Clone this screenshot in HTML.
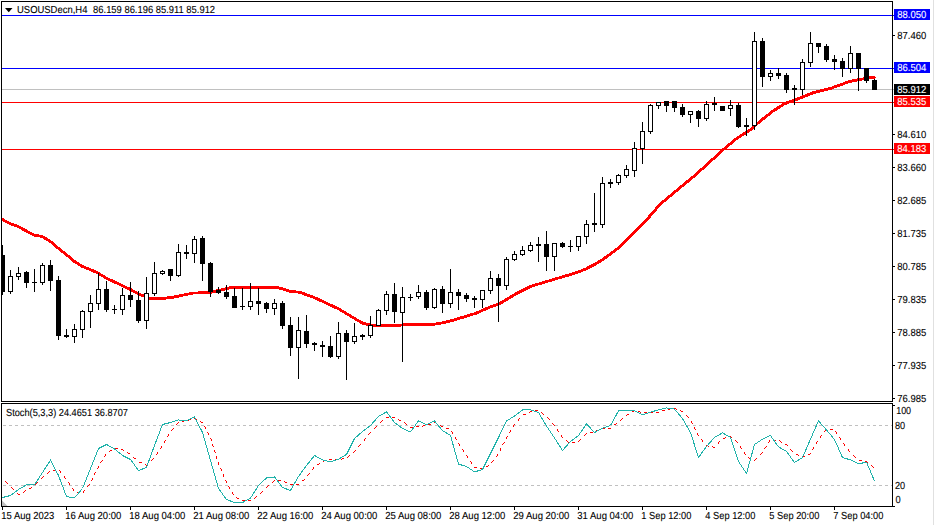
<!DOCTYPE html>
<html><head><meta charset="utf-8"><title>USOUSDecn H4</title>
<style>html,body{margin:0;padding:0;background:#fff;width:934px;height:525px;overflow:hidden}</style></head>
<body>
<svg width="934" height="525" viewBox="0 0 934 525" style="display:block;position:absolute;left:0;top:0" font-family="'Liberation Sans', sans-serif" font-size="10.2px" text-rendering="geometricPrecision">
<rect x="0" y="0" width="934" height="525" fill="#fff"/>
<rect x="933" y="0" width="1" height="525" fill="#e0e0e0"/>
<defs><clipPath id="cm"><rect x="2" y="2" width="890" height="399"/></clipPath><clipPath id="cs"><rect x="2" y="404" width="890" height="102"/></clipPath></defs>
<g shape-rendering="crispEdges">
<rect x="2" y="15" width="892" height="1" fill="#0000ff"/>
<rect x="2" y="68" width="892" height="1" fill="#0000ff"/>
<rect x="2" y="89" width="892" height="1" fill="#c0c0c0"/>
<rect x="2" y="102" width="892" height="1" fill="#ff0000"/>
<rect x="2" y="149" width="892" height="1" fill="#ff0000"/>
</g>
<polyline clip-path="url(#cm)" points="2,219.3 10,223.5 18,226.5 26,230.8 34,235.1 42,236.5 50,241.1 58,248.0 66,254.3 74,261.2 82,266.3 90,269.4 98,273.0 106,278.0 120,284.5 130,289.3 139,294.1 151,298.9 160,298.7 172,297.4 193,293.1 210,292.5 230.6,287.6 277.8,287.6 290.7,291.4 299.2,292.2 309.5,295.7 313,296.9 338.6,308.9 362.6,323.2 372.9,325.6 396.9,325.6 402,324.9 422,324.9 430,324.7 438,323.7 446,322.1 454,320.0 462,317.5 470,315.0 476,313.3 482,310.5 490,307.1 498.9,304.1 516,293.8 531.5,286.1 557.2,278.4 577,272.5 586,268.9 595,264.2 602,260.0 609,255.1 620,246.8 626,240.8 650,216.0 660,204.3 667,198.5 674,192.7 682,186.0 690.5,179.1 698,172.7 706.3,165.1 723.5,149.5 737.2,138.0 749.2,130.7 759.5,121.7 772.6,111.3 784.6,103.7 796.6,99.4 813.8,92.5 830.9,88.3 849.8,81.4 863.5,78.8 872,77.1 875.5,78.0" fill="none" stroke="#ff0000" stroke-width="2.85" stroke-linejoin="round" shape-rendering="crispEdges"/>
<g shape-rendering="crispEdges" clip-path="url(#cm)">
<rect x="2" y="245" width="1" height="50" fill="#000"/>
<rect x="0" y="255" width="5" height="37" fill="#000"/>
<rect x="10" y="270" width="1" height="24" fill="#000"/>
<rect x="8" y="276" width="5" height="16" fill="#000"/>
<rect x="9" y="277" width="3" height="14" fill="#fff"/>
<rect x="18" y="267" width="1" height="13" fill="#000"/>
<rect x="16" y="273" width="5" height="4" fill="#000"/>
<rect x="17" y="274" width="3" height="2" fill="#fff"/>
<rect x="26" y="271" width="1" height="17" fill="#000"/>
<rect x="24" y="272" width="5" height="11" fill="#000"/>
<rect x="34" y="269" width="1" height="23" fill="#000"/>
<rect x="32" y="282" width="5" height="1" fill="#000"/>
<rect x="42" y="263" width="1" height="22" fill="#000"/>
<rect x="40" y="265" width="5" height="18" fill="#000"/>
<rect x="41" y="266" width="3" height="16" fill="#fff"/>
<rect x="50" y="260" width="1" height="31" fill="#000"/>
<rect x="48" y="265" width="5" height="16" fill="#000"/>
<rect x="58" y="276" width="1" height="64" fill="#000"/>
<rect x="56" y="280" width="5" height="56" fill="#000"/>
<rect x="66" y="329" width="1" height="9" fill="#000"/>
<rect x="64" y="335" width="5" height="2" fill="#000"/>
<rect x="74" y="324" width="1" height="19" fill="#000"/>
<rect x="72" y="329" width="5" height="8" fill="#000"/>
<rect x="73" y="330" width="3" height="6" fill="#fff"/>
<rect x="82" y="310" width="1" height="28" fill="#000"/>
<rect x="80" y="311" width="5" height="19" fill="#000"/>
<rect x="81" y="312" width="3" height="17" fill="#fff"/>
<rect x="90" y="295" width="1" height="33" fill="#000"/>
<rect x="88" y="303" width="5" height="9" fill="#000"/>
<rect x="89" y="304" width="3" height="7" fill="#fff"/>
<rect x="98" y="273" width="1" height="37" fill="#000"/>
<rect x="96" y="289" width="5" height="15" fill="#000"/>
<rect x="97" y="290" width="3" height="13" fill="#fff"/>
<rect x="106" y="281" width="1" height="31" fill="#000"/>
<rect x="104" y="289" width="5" height="21" fill="#000"/>
<rect x="114" y="305" width="1" height="9" fill="#000"/>
<rect x="112" y="309" width="5" height="1" fill="#000"/>
<rect x="122" y="288" width="1" height="27" fill="#000"/>
<rect x="120" y="295" width="5" height="15" fill="#000"/>
<rect x="121" y="296" width="3" height="13" fill="#fff"/>
<rect x="130" y="282" width="1" height="25" fill="#000"/>
<rect x="128" y="295" width="5" height="5" fill="#000"/>
<rect x="138" y="291" width="1" height="32" fill="#000"/>
<rect x="136" y="300" width="5" height="21" fill="#000"/>
<rect x="146" y="277" width="1" height="52" fill="#000"/>
<rect x="144" y="293" width="5" height="28" fill="#000"/>
<rect x="145" y="294" width="3" height="26" fill="#fff"/>
<rect x="154" y="262" width="1" height="34" fill="#000"/>
<rect x="152" y="273" width="5" height="21" fill="#000"/>
<rect x="153" y="274" width="3" height="19" fill="#fff"/>
<rect x="162" y="270" width="1" height="5" fill="#000"/>
<rect x="160" y="271" width="5" height="3" fill="#000"/>
<rect x="161" y="272" width="3" height="1" fill="#fff"/>
<rect x="170" y="269" width="1" height="12" fill="#000"/>
<rect x="168" y="269" width="5" height="7" fill="#000"/>
<rect x="178" y="244" width="1" height="33" fill="#000"/>
<rect x="176" y="252" width="5" height="24" fill="#000"/>
<rect x="177" y="253" width="3" height="22" fill="#fff"/>
<rect x="186" y="245" width="1" height="14" fill="#000"/>
<rect x="184" y="252" width="5" height="2" fill="#000"/>
<rect x="194" y="236" width="1" height="27" fill="#000"/>
<rect x="192" y="239" width="5" height="15" fill="#000"/>
<rect x="193" y="240" width="3" height="13" fill="#fff"/>
<rect x="202" y="236" width="1" height="45" fill="#000"/>
<rect x="200" y="238" width="5" height="26" fill="#000"/>
<rect x="210" y="262" width="1" height="35" fill="#000"/>
<rect x="208" y="263" width="5" height="29" fill="#000"/>
<rect x="218" y="287" width="1" height="7" fill="#000"/>
<rect x="216" y="290" width="5" height="3" fill="#000"/>
<rect x="226" y="285" width="1" height="14" fill="#000"/>
<rect x="224" y="292" width="5" height="5" fill="#000"/>
<rect x="234" y="288" width="1" height="20" fill="#000"/>
<rect x="232" y="296" width="5" height="12" fill="#000"/>
<rect x="242" y="288" width="1" height="22" fill="#000"/>
<rect x="240" y="306" width="5" height="1" fill="#000"/>
<rect x="250" y="283" width="1" height="27" fill="#000"/>
<rect x="248" y="301" width="5" height="6" fill="#000"/>
<rect x="249" y="302" width="3" height="4" fill="#fff"/>
<rect x="258" y="288" width="1" height="27" fill="#000"/>
<rect x="256" y="301" width="5" height="3" fill="#000"/>
<rect x="266" y="302" width="1" height="11" fill="#000"/>
<rect x="264" y="303" width="5" height="6" fill="#000"/>
<rect x="274" y="299" width="1" height="16" fill="#000"/>
<rect x="272" y="303" width="5" height="6" fill="#000"/>
<rect x="273" y="304" width="3" height="4" fill="#fff"/>
<rect x="282" y="301" width="1" height="28" fill="#000"/>
<rect x="280" y="303" width="5" height="23" fill="#000"/>
<rect x="290" y="317" width="1" height="39" fill="#000"/>
<rect x="288" y="325" width="5" height="23" fill="#000"/>
<rect x="298" y="317" width="1" height="62" fill="#000"/>
<rect x="296" y="330" width="5" height="18" fill="#000"/>
<rect x="297" y="331" width="3" height="16" fill="#fff"/>
<rect x="306" y="315" width="1" height="33" fill="#000"/>
<rect x="304" y="331" width="5" height="13" fill="#000"/>
<rect x="314" y="342" width="1" height="9" fill="#000"/>
<rect x="312" y="343" width="5" height="2" fill="#000"/>
<rect x="322" y="341" width="1" height="16" fill="#000"/>
<rect x="320" y="345" width="5" height="2" fill="#000"/>
<rect x="330" y="336" width="1" height="22" fill="#000"/>
<rect x="328" y="346" width="5" height="11" fill="#000"/>
<rect x="338" y="322" width="1" height="37" fill="#000"/>
<rect x="336" y="333" width="5" height="24" fill="#000"/>
<rect x="337" y="334" width="3" height="22" fill="#fff"/>
<rect x="346" y="330" width="1" height="50" fill="#000"/>
<rect x="344" y="333" width="5" height="9" fill="#000"/>
<rect x="354" y="323" width="1" height="21" fill="#000"/>
<rect x="352" y="336" width="5" height="6" fill="#000"/>
<rect x="353" y="337" width="3" height="4" fill="#fff"/>
<rect x="362" y="334" width="1" height="6" fill="#000"/>
<rect x="360" y="335" width="5" height="2" fill="#000"/>
<rect x="370" y="316" width="1" height="22" fill="#000"/>
<rect x="368" y="325" width="5" height="11" fill="#000"/>
<rect x="369" y="326" width="3" height="9" fill="#fff"/>
<rect x="378" y="309" width="1" height="17" fill="#000"/>
<rect x="376" y="310" width="5" height="16" fill="#000"/>
<rect x="377" y="311" width="3" height="14" fill="#fff"/>
<rect x="386" y="291" width="1" height="24" fill="#000"/>
<rect x="384" y="294" width="5" height="17" fill="#000"/>
<rect x="385" y="295" width="3" height="15" fill="#fff"/>
<rect x="394" y="283" width="1" height="40" fill="#000"/>
<rect x="392" y="294" width="5" height="18" fill="#000"/>
<rect x="402" y="287" width="1" height="75" fill="#000"/>
<rect x="400" y="297" width="5" height="16" fill="#000"/>
<rect x="401" y="298" width="3" height="14" fill="#fff"/>
<rect x="410" y="294" width="1" height="7" fill="#000"/>
<rect x="408" y="297" width="5" height="1" fill="#000"/>
<rect x="418" y="285" width="1" height="14" fill="#000"/>
<rect x="416" y="292" width="5" height="5" fill="#000"/>
<rect x="417" y="293" width="3" height="3" fill="#fff"/>
<rect x="426" y="290" width="1" height="20" fill="#000"/>
<rect x="424" y="292" width="5" height="16" fill="#000"/>
<rect x="434" y="288" width="1" height="21" fill="#000"/>
<rect x="432" y="289" width="5" height="19" fill="#000"/>
<rect x="433" y="290" width="3" height="17" fill="#fff"/>
<rect x="442" y="286" width="1" height="27" fill="#000"/>
<rect x="440" y="289" width="5" height="15" fill="#000"/>
<rect x="450" y="269" width="1" height="39" fill="#000"/>
<rect x="448" y="292" width="5" height="12" fill="#000"/>
<rect x="449" y="293" width="3" height="10" fill="#fff"/>
<rect x="458" y="289" width="1" height="21" fill="#000"/>
<rect x="456" y="292" width="5" height="4" fill="#000"/>
<rect x="466" y="293" width="1" height="9" fill="#000"/>
<rect x="464" y="295" width="5" height="4" fill="#000"/>
<rect x="474" y="296" width="1" height="12" fill="#000"/>
<rect x="472" y="298" width="5" height="2" fill="#000"/>
<rect x="482" y="290" width="1" height="18" fill="#000"/>
<rect x="480" y="290" width="5" height="10" fill="#000"/>
<rect x="481" y="291" width="3" height="8" fill="#fff"/>
<rect x="490" y="271" width="1" height="23" fill="#000"/>
<rect x="488" y="278" width="5" height="13" fill="#000"/>
<rect x="489" y="279" width="3" height="11" fill="#fff"/>
<rect x="498" y="274" width="1" height="48" fill="#000"/>
<rect x="496" y="278" width="5" height="8" fill="#000"/>
<rect x="506" y="257" width="1" height="33" fill="#000"/>
<rect x="504" y="259" width="5" height="27" fill="#000"/>
<rect x="505" y="260" width="3" height="25" fill="#fff"/>
<rect x="514" y="251" width="1" height="10" fill="#000"/>
<rect x="512" y="254" width="5" height="6" fill="#000"/>
<rect x="513" y="255" width="3" height="4" fill="#fff"/>
<rect x="522" y="246" width="1" height="10" fill="#000"/>
<rect x="520" y="250" width="5" height="5" fill="#000"/>
<rect x="521" y="251" width="3" height="3" fill="#fff"/>
<rect x="530" y="242" width="1" height="10" fill="#000"/>
<rect x="528" y="245" width="5" height="6" fill="#000"/>
<rect x="529" y="246" width="3" height="4" fill="#fff"/>
<rect x="538" y="237" width="1" height="25" fill="#000"/>
<rect x="536" y="244" width="5" height="2" fill="#000"/>
<rect x="546" y="231" width="1" height="40" fill="#000"/>
<rect x="544" y="244" width="5" height="13" fill="#000"/>
<rect x="554" y="243" width="1" height="28" fill="#000"/>
<rect x="552" y="243" width="5" height="14" fill="#000"/>
<rect x="553" y="244" width="3" height="12" fill="#fff"/>
<rect x="562" y="242" width="1" height="6" fill="#000"/>
<rect x="560" y="243" width="5" height="4" fill="#000"/>
<rect x="570" y="240" width="1" height="12" fill="#000"/>
<rect x="568" y="246" width="5" height="1" fill="#000"/>
<rect x="578" y="236" width="1" height="15" fill="#000"/>
<rect x="576" y="236" width="5" height="11" fill="#000"/>
<rect x="577" y="237" width="3" height="9" fill="#fff"/>
<rect x="586" y="220" width="1" height="24" fill="#000"/>
<rect x="584" y="224" width="5" height="13" fill="#000"/>
<rect x="585" y="225" width="3" height="11" fill="#fff"/>
<rect x="594" y="193" width="1" height="39" fill="#000"/>
<rect x="592" y="223" width="5" height="2" fill="#000"/>
<rect x="602" y="177" width="1" height="51" fill="#000"/>
<rect x="600" y="183" width="5" height="42" fill="#000"/>
<rect x="601" y="184" width="3" height="40" fill="#fff"/>
<rect x="610" y="179" width="1" height="9" fill="#000"/>
<rect x="608" y="182" width="5" height="2" fill="#000"/>
<rect x="618" y="174" width="1" height="11" fill="#000"/>
<rect x="616" y="175" width="5" height="8" fill="#000"/>
<rect x="617" y="176" width="3" height="6" fill="#fff"/>
<rect x="626" y="165" width="1" height="13" fill="#000"/>
<rect x="624" y="169" width="5" height="7" fill="#000"/>
<rect x="625" y="170" width="3" height="5" fill="#fff"/>
<rect x="634" y="142" width="1" height="35" fill="#000"/>
<rect x="632" y="148" width="5" height="23" fill="#000"/>
<rect x="633" y="149" width="3" height="21" fill="#fff"/>
<rect x="642" y="122" width="1" height="42" fill="#000"/>
<rect x="640" y="131" width="5" height="18" fill="#000"/>
<rect x="641" y="132" width="3" height="16" fill="#fff"/>
<rect x="650" y="104" width="1" height="30" fill="#000"/>
<rect x="648" y="105" width="5" height="27" fill="#000"/>
<rect x="649" y="106" width="3" height="25" fill="#fff"/>
<rect x="658" y="102" width="1" height="7" fill="#000"/>
<rect x="656" y="102" width="5" height="4" fill="#000"/>
<rect x="657" y="103" width="3" height="2" fill="#fff"/>
<rect x="666" y="101" width="1" height="11" fill="#000"/>
<rect x="664" y="101" width="5" height="5" fill="#000"/>
<rect x="674" y="101" width="1" height="11" fill="#000"/>
<rect x="672" y="101" width="5" height="7" fill="#000"/>
<rect x="682" y="104" width="1" height="13" fill="#000"/>
<rect x="680" y="107" width="5" height="8" fill="#000"/>
<rect x="690" y="111" width="1" height="12" fill="#000"/>
<rect x="688" y="111" width="5" height="4" fill="#000"/>
<rect x="689" y="112" width="3" height="2" fill="#fff"/>
<rect x="698" y="110" width="1" height="17" fill="#000"/>
<rect x="696" y="111" width="5" height="8" fill="#000"/>
<rect x="706" y="101" width="1" height="20" fill="#000"/>
<rect x="704" y="104" width="5" height="15" fill="#000"/>
<rect x="705" y="105" width="3" height="13" fill="#fff"/>
<rect x="714" y="97" width="1" height="14" fill="#000"/>
<rect x="712" y="103" width="5" height="2" fill="#000"/>
<rect x="722" y="106" width="1" height="5" fill="#000"/>
<rect x="720" y="106" width="5" height="5" fill="#000"/>
<rect x="730" y="100" width="1" height="16" fill="#000"/>
<rect x="728" y="105" width="5" height="4" fill="#000"/>
<rect x="729" y="106" width="3" height="2" fill="#fff"/>
<rect x="738" y="103" width="1" height="25" fill="#000"/>
<rect x="736" y="105" width="5" height="22" fill="#000"/>
<rect x="746" y="118" width="1" height="18" fill="#000"/>
<rect x="744" y="125" width="5" height="2" fill="#000"/>
<rect x="754" y="32" width="1" height="98" fill="#000"/>
<rect x="752" y="41" width="5" height="85" fill="#000"/>
<rect x="753" y="42" width="3" height="83" fill="#fff"/>
<rect x="762" y="38" width="1" height="49" fill="#000"/>
<rect x="760" y="41" width="5" height="36" fill="#000"/>
<rect x="770" y="70" width="1" height="11" fill="#000"/>
<rect x="768" y="73" width="5" height="4" fill="#000"/>
<rect x="769" y="74" width="3" height="2" fill="#fff"/>
<rect x="778" y="68" width="1" height="11" fill="#000"/>
<rect x="776" y="73" width="5" height="3" fill="#000"/>
<rect x="786" y="73" width="1" height="20" fill="#000"/>
<rect x="784" y="75" width="5" height="15" fill="#000"/>
<rect x="794" y="85" width="1" height="20" fill="#000"/>
<rect x="792" y="88" width="5" height="2" fill="#000"/>
<rect x="802" y="59" width="1" height="36" fill="#000"/>
<rect x="800" y="62" width="5" height="28" fill="#000"/>
<rect x="801" y="63" width="3" height="26" fill="#fff"/>
<rect x="810" y="32" width="1" height="35" fill="#000"/>
<rect x="808" y="43" width="5" height="20" fill="#000"/>
<rect x="809" y="44" width="3" height="18" fill="#fff"/>
<rect x="818" y="43" width="1" height="10" fill="#000"/>
<rect x="816" y="43" width="5" height="4" fill="#000"/>
<rect x="826" y="44" width="1" height="18" fill="#000"/>
<rect x="824" y="46" width="5" height="14" fill="#000"/>
<rect x="834" y="55" width="1" height="15" fill="#000"/>
<rect x="832" y="59" width="5" height="3" fill="#000"/>
<rect x="842" y="58" width="1" height="19" fill="#000"/>
<rect x="840" y="61" width="5" height="8" fill="#000"/>
<rect x="850" y="46" width="1" height="27" fill="#000"/>
<rect x="848" y="53" width="5" height="16" fill="#000"/>
<rect x="849" y="54" width="3" height="14" fill="#fff"/>
<rect x="858" y="53" width="1" height="38" fill="#000"/>
<rect x="856" y="53" width="5" height="16" fill="#000"/>
<rect x="866" y="68" width="1" height="15" fill="#000"/>
<rect x="864" y="68" width="5" height="13" fill="#000"/>
<rect x="874" y="79" width="1" height="11" fill="#000"/>
<rect x="872" y="80" width="5" height="10" fill="#000"/>
</g>
<g shape-rendering="crispEdges" fill="#000">
<rect x="1" y="1" width="892" height="1"/>
<rect x="1" y="1" width="1" height="401"/>
<rect x="892" y="1" width="1" height="401"/>
<rect x="1" y="401" width="892" height="1"/>
<rect x="1" y="403" width="892" height="1"/>
<rect x="1" y="403" width="1" height="104"/>
<rect x="892" y="403" width="1" height="104"/>
<rect x="1" y="506" width="894" height="1"/>
<rect x="893" y="35" width="2" height="1"/>
<rect x="893" y="134" width="2" height="1"/>
<rect x="893" y="167" width="2" height="1"/>
<rect x="893" y="200" width="2" height="1"/>
<rect x="893" y="233" width="2" height="1"/>
<rect x="893" y="266" width="2" height="1"/>
<rect x="893" y="299" width="2" height="1"/>
<rect x="893" y="332" width="2" height="1"/>
<rect x="893" y="365" width="2" height="1"/>
<rect x="893" y="398" width="2" height="1"/>
<rect x="893" y="405" width="2" height="1"/>
<rect x="2" y="507" width="1" height="3"/>
<rect x="66" y="507" width="1" height="3"/>
<rect x="130" y="507" width="1" height="3"/>
<rect x="194" y="507" width="1" height="3"/>
<rect x="258" y="507" width="1" height="3"/>
<rect x="322" y="507" width="1" height="3"/>
<rect x="386" y="507" width="1" height="3"/>
<rect x="450" y="507" width="1" height="3"/>
<rect x="514" y="507" width="1" height="3"/>
<rect x="578" y="507" width="1" height="3"/>
<rect x="642" y="507" width="1" height="3"/>
<rect x="706" y="507" width="1" height="3"/>
<rect x="770" y="507" width="1" height="3"/>
<rect x="834" y="507" width="1" height="3"/>
</g>
<g shape-rendering="crispEdges">
<rect x="894" y="9" width="36" height="11" fill="#0000ff"/>
<rect x="894" y="62" width="36" height="11" fill="#0000ff"/>
<rect x="894" y="84" width="36" height="11" fill="#000"/>
<rect x="894" y="96" width="36" height="11" fill="#ff0000"/>
<rect x="894" y="143" width="36" height="11" fill="#ff0000"/>
</g>
<g shape-rendering="crispEdges" stroke="#c0c0c0" stroke-width="1" stroke-dasharray="3 3">
<line x1="3" y1="425.5" x2="892" y2="425.5"/>
<line x1="3" y1="485.5" x2="892" y2="485.5"/>
</g>
<polygon points="2,500.5 2,506 7.5,506" fill="#c0c0c0"/>
<path d="M5 481h1v1h-1zM6 482h1v1h-1zM7 483h1v1h-1zM11 487h1v1h-1zM12 488h1v1h-1zM13 489h1v1h-1zM17 493h1v1h-1zM18 494h1v1h-1zM19 494h1v1h-1zM23 492h1v1h-1zM24 491h1v1h-1zM25 490h1v1h-1zM29 488h1v1h-1zM30 488h1v1h-1zM31 487h1v1h-1zM35 484h1v1h-1zM36 483h1v1h-1zM37 482h1v1h-1zM41 478h1v1h-1zM42 477h1v1h-1zM43 476h1v1h-1zM47 473h1v1h-1zM48 472h1v1h-1zM49 471h1v1h-1zM53 470h1v1h-1zM54 470h1v1h-1zM55 469h1v1h-1zM59 470h1v1h-1zM60 471h1v1h-1zM60 472h1v1h-1zM64 476h1v1h-1zM64 477h1v1h-1zM65 478h1v1h-1zM68 482h1v1h-1zM69 483h1v1h-1zM69 484h1v1h-1zM72 488h1v1h-1zM73 489h1v1h-1zM73 490h1v1h-1zM77 492h1v1h-1zM78 492h1v1h-1zM79 492h1v1h-1zM83 492h1v1h-1zM83 491h1v1h-1zM84 490h1v1h-1zM87 486h1v1h-1zM88 485h1v1h-1zM89 484h1v1h-1zM91 480h1v1h-1zM92 479h1v1h-1zM92 478h1v1h-1zM94 474h1v1h-1zM94 473h1v1h-1zM95 472h1v1h-1zM97 468h1v1h-1zM98 467h1v1h-1zM98 466h1v1h-1zM100 462h1v1h-1zM101 461h1v1h-1zM102 460h1v1h-1zM104 456h1v1h-1zM105 455h1v1h-1zM105 454h1v1h-1zM109 451h1v1h-1zM110 450h1v1h-1zM111 450h1v1h-1zM115 448h1v1h-1zM116 448h1v1h-1zM117 448h1v1h-1zM121 449h1v1h-1zM122 449h1v1h-1zM123 450h1v1h-1zM127 452h1v1h-1zM128 453h1v1h-1zM129 453h1v1h-1zM133 457h1v1h-1zM134 458h1v1h-1zM135 458h1v1h-1zM139 462h1v1h-1zM140 462h1v1h-1zM141 462h1v1h-1zM145 464h1v1h-1zM146 465h1v1h-1zM147 464h1v1h-1zM151 460h1v1h-1zM152 459h1v1h-1zM153 458h1v1h-1zM156 454h1v1h-1zM157 453h1v1h-1zM157 452h1v1h-1zM160 448h1v1h-1zM161 447h1v1h-1zM161 446h1v1h-1zM164 442h1v1h-1zM164 441h1v1h-1zM165 440h1v1h-1zM167 436h1v1h-1zM168 435h1v1h-1zM168 434h1v1h-1zM171 430h1v1h-1zM172 429h1v1h-1zM173 428h1v1h-1zM176 424h1v1h-1zM177 423h1v1h-1zM178 422h1v1h-1zM182 421h1v1h-1zM183 421h1v1h-1zM184 420h1v1h-1zM188 420h1v1h-1zM189 419h1v1h-1zM190 419h1v1h-1zM194 418h1v1h-1zM195 418h1v1h-1zM196 419h1v1h-1zM200 421h1v1h-1zM201 422h1v1h-1zM202 422h1v1h-1zM204 426h1v1h-1zM205 427h1v1h-1zM205 428h1v1h-1zM207 432h1v1h-1zM208 433h1v1h-1zM208 434h1v1h-1zM210 438h1v1h-1zM211 439h1v1h-1zM211 440h1v1h-1zM212 444h1v1h-1zM212 445h1v1h-1zM213 446h1v1h-1zM214 450h1v1h-1zM214 451h1v1h-1zM215 452h1v1h-1zM216 456h1v1h-1zM216 457h1v1h-1zM216 458h1v1h-1zM218 462h1v1h-1zM218 463h1v1h-1zM218 464h1v1h-1zM220 468h1v1h-1zM221 469h1v1h-1zM221 470h1v1h-1zM223 474h1v1h-1zM223 475h1v1h-1zM223 476h1v1h-1zM225 480h1v1h-1zM226 481h1v1h-1zM226 482h1v1h-1zM228 486h1v1h-1zM229 487h1v1h-1zM229 488h1v1h-1zM232 492h1v1h-1zM232 493h1v1h-1zM233 494h1v1h-1zM236 497h1v1h-1zM237 498h1v1h-1zM238 498h1v1h-1zM242 500h1v1h-1zM243 500h1v1h-1zM244 500h1v1h-1zM248 500h1v1h-1zM249 500h1v1h-1zM250 500h1v1h-1zM254 498h1v1h-1zM255 497h1v1h-1zM256 496h1v1h-1zM260 493h1v1h-1zM261 492h1v1h-1zM262 491h1v1h-1zM266 487h1v1h-1zM267 486h1v1h-1zM268 485h1v1h-1zM272 482h1v1h-1zM273 481h1v1h-1zM274 480h1v1h-1zM278 480h1v1h-1zM279 480h1v1h-1zM280 480h1v1h-1zM284 481h1v1h-1zM285 482h1v1h-1zM286 482h1v1h-1zM290 484h1v1h-1zM291 484h1v1h-1zM292 484h1v1h-1zM296 484h1v1h-1zM297 484h1v1h-1zM298 484h1v1h-1zM302 480h1v1h-1zM303 480h1v1h-1zM304 479h1v1h-1zM307 475h1v1h-1zM308 474h1v1h-1zM309 473h1v1h-1zM312 469h1v1h-1zM313 468h1v1h-1zM313 467h1v1h-1zM317 464h1v1h-1zM318 464h1v1h-1zM319 463h1v1h-1zM323 461h1v1h-1zM324 460h1v1h-1zM325 460h1v1h-1zM329 459h1v1h-1zM330 459h1v1h-1zM331 459h1v1h-1zM335 459h1v1h-1zM336 459h1v1h-1zM337 459h1v1h-1zM341 459h1v1h-1zM342 458h1v1h-1zM343 458h1v1h-1zM347 457h1v1h-1zM348 456h1v1h-1zM349 455h1v1h-1zM353 452h1v1h-1zM354 451h1v1h-1zM355 450h1v1h-1zM358 446h1v1h-1zM359 445h1v1h-1zM360 444h1v1h-1zM364 440h1v1h-1zM364 439h1v1h-1zM365 438h1v1h-1zM368 434h1v1h-1zM369 433h1v1h-1zM370 432h1v1h-1zM374 428h1v1h-1zM375 427h1v1h-1zM376 426h1v1h-1zM380 422h1v1h-1zM381 421h1v1h-1zM382 420h1v1h-1zM386 417h1v1h-1zM387 417h1v1h-1zM388 417h1v1h-1zM392 417h1v1h-1zM393 417h1v1h-1zM394 417h1v1h-1zM398 419h1v1h-1zM399 420h1v1h-1zM400 420h1v1h-1zM404 422h1v1h-1zM405 423h1v1h-1zM406 424h1v1h-1zM410 427h1v1h-1zM411 427h1v1h-1zM412 427h1v1h-1zM416 426h1v1h-1zM417 426h1v1h-1zM418 426h1v1h-1zM422 426h1v1h-1zM423 425h1v1h-1zM424 425h1v1h-1zM428 424h1v1h-1zM429 424h1v1h-1zM430 424h1v1h-1zM434 422h1v1h-1zM435 422h1v1h-1zM436 423h1v1h-1zM440 425h1v1h-1zM441 426h1v1h-1zM442 426h1v1h-1zM446 428h1v1h-1zM447 428h1v1h-1zM448 428h1v1h-1zM451 431h1v1h-1zM452 432h1v1h-1zM452 433h1v1h-1zM455 437h1v1h-1zM455 438h1v1h-1zM456 439h1v1h-1zM458 443h1v1h-1zM459 444h1v1h-1zM459 445h1v1h-1zM462 449h1v1h-1zM463 450h1v1h-1zM463 451h1v1h-1zM466 455h1v1h-1zM467 456h1v1h-1zM467 457h1v1h-1zM470 461h1v1h-1zM471 462h1v1h-1zM471 463h1v1h-1zM474 467h1v1h-1zM475 467h1v1h-1zM476 467h1v1h-1zM480 468h1v1h-1zM481 468h1v1h-1zM482 468h1v1h-1zM486 466h1v1h-1zM487 466h1v1h-1zM488 465h1v1h-1zM491 462h1v1h-1zM492 461h1v1h-1zM493 460h1v1h-1zM496 456h1v1h-1zM497 455h1v1h-1zM497 454h1v1h-1zM500 450h1v1h-1zM500 449h1v1h-1zM500 448h1v1h-1zM502 444h1v1h-1zM503 443h1v1h-1zM504 442h1v1h-1zM506 438h1v1h-1zM506 437h1v1h-1zM507 436h1v1h-1zM509 432h1v1h-1zM510 431h1v1h-1zM510 430h1v1h-1zM513 426h1v1h-1zM513 425h1v1h-1zM514 424h1v1h-1zM518 420h1v1h-1zM518 419h1v1h-1zM519 418h1v1h-1zM523 414h1v1h-1zM524 414h1v1h-1zM525 414h1v1h-1zM529 412h1v1h-1zM530 411h1v1h-1zM531 411h1v1h-1zM535 410h1v1h-1zM536 410h1v1h-1zM537 410h1v1h-1zM541 412h1v1h-1zM542 413h1v1h-1zM543 414h1v1h-1zM547 417h1v1h-1zM548 418h1v1h-1zM549 419h1v1h-1zM552 423h1v1h-1zM553 424h1v1h-1zM554 425h1v1h-1zM557 429h1v1h-1zM557 430h1v1h-1zM558 431h1v1h-1zM561 435h1v1h-1zM561 436h1v1h-1zM562 437h1v1h-1zM566 440h1v1h-1zM567 441h1v1h-1zM568 442h1v1h-1zM572 442h1v1h-1zM573 442h1v1h-1zM574 442h1v1h-1zM578 441h1v1h-1zM579 440h1v1h-1zM580 439h1v1h-1zM584 435h1v1h-1zM585 434h1v1h-1zM586 433h1v1h-1zM590 432h1v1h-1zM591 432h1v1h-1zM592 432h1v1h-1zM596 430h1v1h-1zM597 430h1v1h-1zM598 430h1v1h-1zM602 428h1v1h-1zM603 428h1v1h-1zM604 428h1v1h-1zM608 428h1v1h-1zM609 428h1v1h-1zM610 428h1v1h-1zM614 424h1v1h-1zM615 424h1v1h-1zM616 423h1v1h-1zM620 420h1v1h-1zM621 419h1v1h-1zM622 418h1v1h-1zM626 415h1v1h-1zM627 414h1v1h-1zM628 414h1v1h-1zM632 411h1v1h-1zM633 411h1v1h-1zM634 410h1v1h-1zM638 411h1v1h-1zM639 411h1v1h-1zM640 412h1v1h-1zM644 412h1v1h-1zM645 412h1v1h-1zM646 412h1v1h-1zM650 412h1v1h-1zM651 412h1v1h-1zM652 412h1v1h-1zM656 412h1v1h-1zM657 412h1v1h-1zM658 412h1v1h-1zM662 410h1v1h-1zM663 410h1v1h-1zM664 410h1v1h-1zM668 409h1v1h-1zM669 409h1v1h-1zM670 408h1v1h-1zM674 408h1v1h-1zM675 408h1v1h-1zM676 409h1v1h-1zM680 410h1v1h-1zM681 411h1v1h-1zM682 411h1v1h-1zM686 415h1v1h-1zM687 416h1v1h-1zM688 417h1v1h-1zM691 421h1v1h-1zM691 422h1v1h-1zM692 423h1v1h-1zM694 427h1v1h-1zM694 428h1v1h-1zM695 429h1v1h-1zM697 433h1v1h-1zM697 434h1v1h-1zM698 435h1v1h-1zM701 439h1v1h-1zM702 440h1v1h-1zM702 441h1v1h-1zM706 445h1v1h-1zM707 445h1v1h-1zM708 446h1v1h-1zM712 446h1v1h-1zM713 447h1v1h-1zM714 447h1v1h-1zM718 443h1v1h-1zM718 442h1v1h-1zM719 441h1v1h-1zM723 438h1v1h-1zM724 438h1v1h-1zM725 437h1v1h-1zM729 436h1v1h-1zM730 436h1v1h-1zM731 437h1v1h-1zM735 440h1v1h-1zM736 441h1v1h-1zM737 442h1v1h-1zM740 446h1v1h-1zM740 447h1v1h-1zM741 448h1v1h-1zM744 452h1v1h-1zM744 453h1v1h-1zM745 454h1v1h-1zM748 457h1v1h-1zM749 458h1v1h-1zM750 458h1v1h-1zM754 460h1v1h-1zM755 459h1v1h-1zM756 458h1v1h-1zM760 454h1v1h-1zM761 453h1v1h-1zM762 452h1v1h-1zM764 448h1v1h-1zM765 447h1v1h-1zM766 446h1v1h-1zM768 442h1v1h-1zM769 441h1v1h-1zM769 440h1v1h-1zM773 439h1v1h-1zM774 440h1v1h-1zM775 440h1v1h-1zM779 440h1v1h-1zM780 441h1v1h-1zM781 442h1v1h-1zM785 444h1v1h-1zM786 444h1v1h-1zM787 445h1v1h-1zM790 449h1v1h-1zM791 450h1v1h-1zM792 451h1v1h-1zM796 454h1v1h-1zM797 454h1v1h-1zM798 455h1v1h-1zM802 457h1v1h-1zM803 456h1v1h-1zM804 456h1v1h-1zM808 454h1v1h-1zM809 454h1v1h-1zM810 453h1v1h-1zM812 449h1v1h-1zM813 448h1v1h-1zM813 447h1v1h-1zM816 443h1v1h-1zM816 442h1v1h-1zM817 441h1v1h-1zM820 437h1v1h-1zM820 436h1v1h-1zM821 435h1v1h-1zM824 431h1v1h-1zM825 430h1v1h-1zM826 429h1v1h-1zM830 429h1v1h-1zM831 429h1v1h-1zM832 429h1v1h-1zM835 431h1v1h-1zM836 432h1v1h-1zM836 433h1v1h-1zM839 437h1v1h-1zM840 438h1v1h-1zM840 439h1v1h-1zM843 443h1v1h-1zM844 444h1v1h-1zM844 445h1v1h-1zM848 449h1v1h-1zM848 450h1v1h-1zM849 451h1v1h-1zM853 455h1v1h-1zM854 456h1v1h-1zM855 457h1v1h-1zM859 460h1v1h-1zM860 460h1v1h-1zM861 460h1v1h-1zM865 461h1v1h-1zM866 461h1v1h-1zM867 462h1v1h-1zM871 465h1v1h-1zM872 466h1v1h-1zM873 467h1v1h-1z" fill="#ff0000" shape-rendering="crispEdges"/>
<polyline clip-path="url(#cs)" points="2.5,497.5 10.5,495.5 18.5,489.5 26.5,484.9 34.5,484.9 42.5,472.5 50.5,460.1 58.5,475.5 66.5,496.5 74.5,497.9 82.5,488.5 90.5,468.5 98.5,448.5 106.5,444.5 114.5,448.9 122.5,455.5 130.5,459.5 138.5,470.5 146.5,467.5 154.5,445.5 162.5,424.5 170.5,422.5 178.5,419.9 186.5,420.9 194.5,416.9 202.5,432.5 210.5,460.5 218.5,488.5 226.5,499.5 234.5,502.5 242.5,502.5 250.5,498.1 258.5,485.5 266.5,477.9 274.5,476.9 282.5,487.5 290.5,490.5 298.5,476.5 306.5,465.5 314.5,455.5 322.5,459.9 330.5,461.9 338.5,459.1 346.5,454.5 354.5,438.5 362.5,431.5 370.5,425.5 378.5,416.5 386.5,411.9 394.5,422.5 402.5,428.5 410.5,431.9 418.5,420.9 426.5,424.9 434.5,420.9 442.5,430.5 450.5,435.5 458.5,464.1 466.5,466.5 474.5,471.9 482.5,469.5 490.5,453.5 498.5,437.5 506.5,420.9 514.5,416.1 522.5,409.9 530.5,409.9 538.5,412.5 546.5,426.0 554.5,437.9 562.5,450.5 570.5,441.5 578.5,435.5 586.5,423.9 594.5,432.5 602.5,428.1 610.5,425.5 618.5,410.9 626.5,410.9 634.5,410.9 642.5,414.9 650.5,412.1 658.5,409.9 666.5,407.9 674.5,409.1 682.5,418.5 690.5,432.5 698.5,457.5 706.5,446.5 714.5,437.5 722.5,432.9 730.5,437.5 738.5,461.5 746.5,473.5 754.5,444.5 762.5,439.1 770.5,435.5 778.5,446.9 786.5,451.5 794.5,462.5 802.5,457.5 810.5,439.1 818.5,420.9 826.5,429.9 834.5,439.5 842.5,457.5 850.5,459.9 858.5,463.9 866.5,462.1 874.5,480.9" fill="none" stroke="#20b2aa" stroke-width="1" shape-rendering="crispEdges"/>
<polygon points="5,8 12.5,8 8.75,12.2" fill="#000"/>
<text x="17" y="13" fill="#000" stroke="#000" stroke-width="0.1" textLength="70.4" lengthAdjust="spacingAndGlyphs">USOUSDecn,H4</text>
<text x="93.1" y="13" fill="#000" stroke="#000" stroke-width="0.1" textLength="122" lengthAdjust="spacingAndGlyphs">86.159 86.196 85.911 85.912</text>
<text x="897.3" y="39" fill="#000" stroke="#000" stroke-width="0.1" textLength="29" lengthAdjust="spacingAndGlyphs">87.460</text>
<text x="897.3" y="138" fill="#000" stroke="#000" stroke-width="0.1" textLength="29" lengthAdjust="spacingAndGlyphs">84.610</text>
<text x="897.3" y="171" fill="#000" stroke="#000" stroke-width="0.1" textLength="29" lengthAdjust="spacingAndGlyphs">83.660</text>
<text x="897.3" y="204" fill="#000" stroke="#000" stroke-width="0.1" textLength="29" lengthAdjust="spacingAndGlyphs">82.685</text>
<text x="897.3" y="237" fill="#000" stroke="#000" stroke-width="0.1" textLength="29" lengthAdjust="spacingAndGlyphs">81.735</text>
<text x="897.3" y="270" fill="#000" stroke="#000" stroke-width="0.1" textLength="29" lengthAdjust="spacingAndGlyphs">80.785</text>
<text x="897.3" y="303" fill="#000" stroke="#000" stroke-width="0.1" textLength="29" lengthAdjust="spacingAndGlyphs">79.835</text>
<text x="897.3" y="336" fill="#000" stroke="#000" stroke-width="0.1" textLength="29" lengthAdjust="spacingAndGlyphs">78.885</text>
<text x="897.3" y="369" fill="#000" stroke="#000" stroke-width="0.1" textLength="29" lengthAdjust="spacingAndGlyphs">77.935</text>
<text x="897.3" y="402" fill="#000" stroke="#000" stroke-width="0.1" textLength="29" lengthAdjust="spacingAndGlyphs">76.985</text>
<text x="897.3" y="18" fill="#fff" stroke="#fff" stroke-width="0.1" textLength="29" lengthAdjust="spacingAndGlyphs">88.050</text>
<text x="897.3" y="71" fill="#fff" stroke="#fff" stroke-width="0.1" textLength="29" lengthAdjust="spacingAndGlyphs">86.504</text>
<text x="897.3" y="93" fill="#fff" stroke="#fff" stroke-width="0.1" textLength="29" lengthAdjust="spacingAndGlyphs">85.912</text>
<text x="897.3" y="105" fill="#fff" stroke="#fff" stroke-width="0.1" textLength="29" lengthAdjust="spacingAndGlyphs">85.535</text>
<text x="897.3" y="152" fill="#fff" stroke="#fff" stroke-width="0.1" textLength="29" lengthAdjust="spacingAndGlyphs">84.183</text>
<text x="6" y="416" fill="#000" stroke="#000" stroke-width="0.1" textLength="122" lengthAdjust="spacingAndGlyphs">Stoch(5,3,3) 24.4651 36.8707</text>
<text x="896.2" y="414" fill="#000" stroke="#000" stroke-width="0.1" textLength="14.9" lengthAdjust="spacingAndGlyphs">100</text>
<text x="895" y="429" fill="#000" stroke="#000" stroke-width="0.1" textLength="10.2" lengthAdjust="spacingAndGlyphs">80</text>
<text x="895" y="489" fill="#000" stroke="#000" stroke-width="0.1" textLength="10.2" lengthAdjust="spacingAndGlyphs">20</text>
<text x="895.6" y="503" fill="#000" stroke="#000" stroke-width="0.1" textLength="5.2" lengthAdjust="spacingAndGlyphs">0</text>
<text x="1.3" y="519" fill="#000" stroke="#000" stroke-width="0.1" textLength="53.0" lengthAdjust="spacingAndGlyphs">15 Aug 2023</text>
<text x="65.3" y="519" fill="#000" stroke="#000" stroke-width="0.1" textLength="56.1" lengthAdjust="spacingAndGlyphs">16 Aug 20:00</text>
<text x="129.3" y="519" fill="#000" stroke="#000" stroke-width="0.1" textLength="56.1" lengthAdjust="spacingAndGlyphs">18 Aug 04:00</text>
<text x="193.3" y="519" fill="#000" stroke="#000" stroke-width="0.1" textLength="56.1" lengthAdjust="spacingAndGlyphs">21 Aug 08:00</text>
<text x="257.3" y="519" fill="#000" stroke="#000" stroke-width="0.1" textLength="56.1" lengthAdjust="spacingAndGlyphs">22 Aug 16:00</text>
<text x="321.3" y="519" fill="#000" stroke="#000" stroke-width="0.1" textLength="56.1" lengthAdjust="spacingAndGlyphs">24 Aug 00:00</text>
<text x="385.3" y="519" fill="#000" stroke="#000" stroke-width="0.1" textLength="56.1" lengthAdjust="spacingAndGlyphs">25 Aug 08:00</text>
<text x="449.3" y="519" fill="#000" stroke="#000" stroke-width="0.1" textLength="56.1" lengthAdjust="spacingAndGlyphs">28 Aug 12:00</text>
<text x="513.3" y="519" fill="#000" stroke="#000" stroke-width="0.1" textLength="56.1" lengthAdjust="spacingAndGlyphs">29 Aug 20:00</text>
<text x="577.3" y="519" fill="#000" stroke="#000" stroke-width="0.1" textLength="56.1" lengthAdjust="spacingAndGlyphs">31 Aug 04:00</text>
<text x="641.3" y="519" fill="#000" stroke="#000" stroke-width="0.1" textLength="50.1" lengthAdjust="spacingAndGlyphs">1 Sep 12:00</text>
<text x="705.3" y="519" fill="#000" stroke="#000" stroke-width="0.1" textLength="50.1" lengthAdjust="spacingAndGlyphs">4 Sep 12:00</text>
<text x="769.3" y="519" fill="#000" stroke="#000" stroke-width="0.1" textLength="50.1" lengthAdjust="spacingAndGlyphs">5 Sep 20:00</text>
<text x="833.3" y="519" fill="#000" stroke="#000" stroke-width="0.1" textLength="50.1" lengthAdjust="spacingAndGlyphs">7 Sep 04:00</text>
</svg>
</body></html>
